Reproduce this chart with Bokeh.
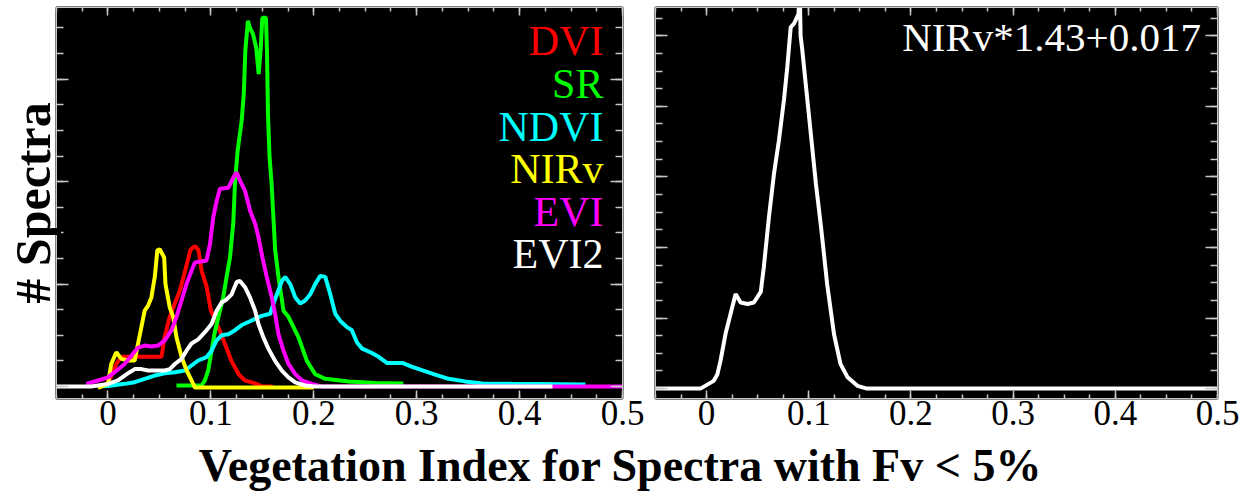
import numpy as np
from bokeh.plotting import figure
from bokeh.layouts import column, row
from bokeh.models import FixedTicker, LinearAxis, Label
from bokeh.embed import file_html
from bokeh.resources import INLINE

FONT = "Liberation Serif"

# ---------------- data (left panel: histograms, y in arbitrary count units) -------------
dvi_x = [-0.01, 0.0, 0.004, 0.008, 0.013, 0.03, 0.052, 0.055, 0.06, 0.065, 0.07, 0.075,
         0.08, 0.083, 0.085, 0.088, 0.091, 0.096, 0.1, 0.106, 0.11, 0.115, 0.12, 0.127,
         0.133, 0.143, 0.15, 0.16]
dvi_y = [0.0, 0.03, 0.12, 0.22, 0.29, 0.29, 0.29, 0.48, 0.68, 0.81, 0.94, 1.13,
         1.33, 1.36, 1.37, 1.33, 1.13, 0.97, 0.74, 0.61, 0.51, 0.38, 0.25, 0.12,
         0.06, 0.03, 0.0, 0.0]

sr_x = [0.0666, 0.0909, 0.0942, 0.0975, 0.1007, 0.104, 0.1088, 0.112, 0.1153, 0.1186,
        0.1218, 0.1235, 0.126, 0.128, 0.130, 0.132, 0.1335, 0.136, 0.138, 0.141, 0.144,
        0.1465, 0.1485, 0.150, 0.1535, 0.1545, 0.1555, 0.157, 0.159, 0.1625, 0.1657,
        0.1706, 0.1754, 0.1852, 0.1933, 0.2014, 0.2112, 0.234, 0.26, 0.287]
sr_y = [0.01, 0.01, 0.06, 0.16, 0.35, 0.54, 0.74, 0.87, 1.07, 1.26,
        1.6, 2.0, 2.3, 2.45, 2.6, 2.86, 3.28, 3.57, 3.5, 3.44, 3.31,
        3.05, 3.31, 3.6, 3.6, 3.28, 2.66, 2.25, 1.98, 1.33, 1.07,
        0.74, 0.68, 0.48, 0.25, 0.12, 0.075, 0.05, 0.035, 0.03]

ndvi_x = [-0.01, 0.0, 0.0162, 0.026, 0.0357, 0.0455, 0.0552, 0.065, 0.0747, 0.0812, 0.0877,
          0.0958, 0.1007, 0.1056, 0.1104, 0.117, 0.1235, 0.13, 0.1365, 0.143, 0.1494,
          0.1576, 0.1608, 0.1657, 0.169, 0.1722, 0.1771, 0.182, 0.1868, 0.1917, 0.1966,
          0.2014, 0.2063, 0.2112, 0.216, 0.2209, 0.2258, 0.2323, 0.237, 0.242, 0.247,
          0.256, 0.263, 0.271, 0.286, 0.295, 0.305, 0.318, 0.331, 0.347, 0.364, 0.393, 0.464]
ndvi_y = [0.0, 0.005, 0.026, 0.042, 0.075, 0.107, 0.13, 0.14, 0.156, 0.205, 0.254,
          0.286, 0.35, 0.45, 0.50, 0.51, 0.55, 0.60, 0.63, 0.66, 0.69,
          0.71, 0.81, 0.94, 1.03, 1.07, 1.0, 0.87, 0.81, 0.84, 0.90,
          1.0, 1.08, 1.07, 0.90, 0.71, 0.64, 0.58, 0.55, 0.43, 0.37,
          0.33, 0.29, 0.23, 0.23, 0.195, 0.16, 0.117, 0.075, 0.05, 0.03, 0.026, 0.02]

nirv_x = [-0.0097, 0.0, 0.0032, 0.0081, 0.013, 0.0195, 0.026, 0.0292, 0.0357, 0.039,
          0.0422, 0.0455, 0.048, 0.0503, 0.0546, 0.0559, 0.0601, 0.0634, 0.0666, 0.0715,
          0.0763, 0.0812, 0.0845, 0.2]
nirv_y = [-0.013, 0.026, 0.22, 0.335, 0.27, 0.254, 0.254, 0.416, 0.74, 0.79,
          0.87, 1.07, 1.33, 1.34, 1.26, 1.0, 0.77, 0.68, 0.48, 0.29,
          0.16, 0.06, -0.01, -0.01]

evi_x = [-0.0211, -0.0097, 0.0, 0.0065, 0.0162, 0.0227, 0.0292, 0.0357, 0.0422, 0.0487,
         0.0552, 0.0617, 0.0666, 0.0715, 0.0763, 0.0812, 0.0845, 0.0958, 0.0991, 0.1023,
         0.1056, 0.1088, 0.117, 0.1218, 0.1251, 0.1283, 0.1332, 0.138, 0.143, 0.1462,
         0.1501, 0.1543, 0.1592, 0.1624, 0.1657, 0.1706, 0.1754, 0.182, 0.1885, 0.1982,
         0.208, 0.5]
evi_y = [0.026, 0.059, 0.09, 0.14, 0.22, 0.30, 0.38, 0.40, 0.39, 0.40,
         0.45, 0.55, 0.68, 0.84, 1.0, 1.13, 1.21, 1.23, 1.39, 1.65,
         1.81, 1.93, 1.94, 2.04, 2.09, 2.01, 1.91, 1.72, 1.59, 1.46,
         1.26, 1.07, 0.87, 0.71, 0.51, 0.35, 0.22, 0.12, 0.06, 0.026,
         0.0, 0.0]

evi2_x = [-0.05, -0.0162, 0.0, 0.0097, 0.0162, 0.0211, 0.026, 0.0325, 0.039, 0.0487,
          0.0552, 0.0601, 0.065, 0.0715, 0.0763, 0.0812, 0.0877, 0.0942, 0.1007, 0.1056,
          0.1104, 0.1153, 0.1202, 0.1251, 0.1283, 0.1332, 0.138, 0.143, 0.1462, 0.151,
          0.1559, 0.1624, 0.169, 0.1754, 0.182, 0.1917, 0.2014, 0.432]
evi2_y = [0.0, 0.0, 0.026, 0.059, 0.107, 0.14, 0.17, 0.17, 0.156, 0.156,
          0.156, 0.17, 0.22, 0.27, 0.35, 0.42, 0.46, 0.53, 0.61, 0.74,
          0.82, 0.85, 0.90, 1.02, 1.03, 0.97, 0.87, 0.74, 0.61, 0.48,
          0.37, 0.25, 0.156, 0.09, 0.04, 0.01, 0.0, 0.0]

# ---------------- data (right panel: NIRv*1.43+0.017) -------------
adj_x = [-0.05, -0.006, 0.007, 0.0105, 0.0137, 0.0186, 0.0235, 0.0284, 0.0333, 0.04,
         0.0463, 0.053, 0.056, 0.061, 0.066, 0.0708, 0.0757, 0.079, 0.0823, 0.0855,
         0.09, 0.091, 0.092, 0.0937, 0.097, 0.102, 0.107, 0.112, 0.118, 0.1247,
         0.131, 0.138, 0.1476, 0.157, 0.5]
adj_y = [0.0, 0.0, 0.11, 0.2, 0.4, 0.78, 1.06, 1.34, 1.22, 1.2,
         1.22, 1.37, 1.72, 2.43, 3.05, 3.52, 4.09, 4.56, 5.12, 5.17,
         5.31, 5.8, 5.0, 4.79, 4.32, 3.61, 2.9, 2.29, 1.48, 0.77,
         0.35, 0.16, 0.04, 0.0, 0.0]

series_names = ["DVI", "SR", "NDVI", "NIRv", "EVI", "EVI2"]
series_colors = ["#ff0000", "#00ff00", "#00ffff", "#ffff00", "#ff00ff", "#ffffff"]

xtick_values = [0, 0.1, 0.2, 0.3, 0.4, 0.5]
xtick_labels = ["0", "0.1", "0.2", "0.3", "0.4", "0.5"]
xlabel = "Vegetation Index for Spectra with Fv < 5%"
ylabel = "# Spectra"
right_title = "NIRv*1.43+0.017"

GRAY = "#c8c8c8"
TOP_H = 439   # height of the two panels
BOT_H = 52    # height of the strip with the shared x label


def style_axis(ax, major_in, minor_in, show_labels):
    ax.axis_line_color = GRAY
    ax.axis_line_width = 1
    ax.major_tick_line_color = GRAY
    ax.minor_tick_line_color = GRAY
    ax.major_tick_line_width = 1.5
    ax.minor_tick_line_width = 1.5
    ax.major_tick_in = major_in
    ax.major_tick_out = 0
    ax.minor_tick_in = minor_in
    ax.minor_tick_out = 0
    if not show_labels:
        ax.major_label_text_color = None
        ax.major_label_text_font_size = "1px"
        ax.major_label_standoff = 0


def make_fig(width, yr, ymajor, border_left, border_right):
    p = figure(width=width, height=TOP_H, x_range=(-0.05, 0.5), y_range=yr,
               output_backend="svg", toolbar_location=None,
               min_border_left=border_left, min_border_right=border_right,
               min_border_top=7, min_border_bottom=41,
               background_fill_color="black", border_fill_color="white",
               outline_line_color="black", outline_line_width=2)
    p.grid.visible = False
    xt = FixedTicker(ticks=xtick_values, minor_ticks=list(np.arange(-0.05, 0.5001, 0.025)))
    yt = FixedTicker(ticks=list(np.arange(0, ymajor + 1)),
                     minor_ticks=list(np.arange(-0.25, yr[1], 0.25)))
    p.xaxis.ticker = xt
    p.xaxis.major_label_overrides = {v: s for v, s in zip(xtick_values, xtick_labels)}
    p.xaxis.major_label_text_font = FONT
    p.xaxis.major_label_text_font_size = "35px"
    p.xaxis.major_label_text_color = "black"
    p.xaxis.major_label_standoff = 2
    style_axis(p.xaxis[0], 8, 4, True)
    p.yaxis.ticker = yt
    style_axis(p.yaxis[0], 12, 7, False)
    top = LinearAxis(ticker=xt)
    style_axis(top, 8, 4, False)
    p.add_layout(top, "above")
    right = LinearAxis(ticker=yt)
    style_axis(right, 12, 7, False)
    p.add_layout(right, "right")
    return p


p1 = make_fig(646, (-0.117, 3.70), 3, 56, 24)
p1.yaxis[0].axis_label = ylabel
p1.yaxis[0].axis_label_text_font = FONT
p1.yaxis[0].axis_label_text_font_style = "bold"
p1.yaxis[0].axis_label_text_font_size = "50px"
p1.yaxis[0].axis_label_text_color = "black"
p1.yaxis[0].axis_label_standoff = -4

xs = [dvi_x, sr_x, ndvi_x, nirv_x, evi_x, evi2_x]
ys = [dvi_y, sr_y, ndvi_y, nirv_y, evi_y, evi2_y]
for x, y, c in zip(xs, ys, series_colors):
    p1.line(x, y, line_color=c, line_width=4)

legend_y = [3.371, 2.951, 2.531, 2.121, 1.701, 1.291]
for name, c, ly in zip(series_names, series_colors, legend_y):
    p1.add_layout(Label(x=0.4815, y=ly, text=name, text_color=c, text_align="right",
                        text_baseline="middle", text_font=FONT,
                        text_font_size="42px"))

p2 = make_fig(598, (-0.14, 5.40), 5, 9, 27)
p2.line(adj_x, adj_y, line_color="white", line_width=4)
p2.add_layout(Label(x=0.4838, y=4.989, text=right_title, text_color="white",
                    text_align="right", text_baseline="middle",
                    text_font=FONT, text_font_size="41px"))

# bottom strip holding the shared x label
p3 = figure(width=1244, height=BOT_H, x_range=(0, 1), y_range=(0, 1),
            output_backend="svg", toolbar_location=None, min_border=0,
            outline_line_color=None, background_fill_color="white",
            border_fill_color="white")
p3.axis.visible = False
p3.grid.visible = False
p3.add_layout(Label(x=0.4984, y=0.5, text=xlabel, text_color="black", text_align="center",
                    text_baseline="middle", text_font=FONT,
                    text_font_style="bold", text_font_size="46px"))

layout = column(row(p1, p2), p3, spacing=0)
open("out.html", "w").write(file_html(layout, INLINE))
